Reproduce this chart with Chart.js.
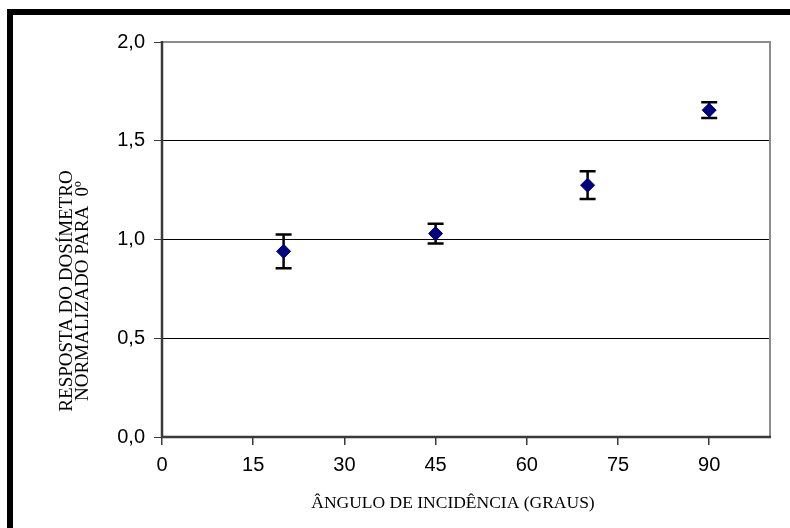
<!DOCTYPE html>
<html><head><meta charset="utf-8">
<script src="https://cdn.jsdelivr.net/npm/chart.js@4"></script>
<style>html,body{margin:0;padding:0;background:#fff}canvas{display:block}</style>
</head><body>
<canvas id="c" width="790" height="528"></canvas>
<script>
const angles = [20, 45, 70, 90];
const responses = [0.94, 1.03, 1.275, 1.655];
const errors = [0.085, 0.05, 0.07, 0.04];
const xTicks = [0, 15, 30, 45, 60, 75, 90];
const yTicks = [0, 0.5, 1, 1.5, 2];
const xTitle = 'ÂNGULO DE INCIDÊNCIA (GRAUS)';
const yTitle = ['RESPOSTA DO DOSÍMETRO', 'NORMALIZADO PARA  0º'];

const points = angles.map((a, i) => ({x: a, y: responses[i]}));

const bgPlugin = {
  id: 'bg',
  beforeDraw(chart) {
    const c = chart.ctx;
    c.save(); c.fillStyle = '#fff'; c.fillRect(0, 0, chart.width, chart.height); c.restore();
  }
};

const framePlugin = {
  id: 'frame',
  beforeDatasetsDraw(chart) {
    const c = chart.ctx, a = chart.chartArea;
    c.save();
    c.strokeStyle = '#8c8c8c'; c.lineWidth = 2;
    c.beginPath();
    c.moveTo(a.left, a.top); c.lineTo(a.right, a.top); c.lineTo(a.right, a.bottom);
    c.stroke();
    c.strokeStyle = '#3a3a3a'; c.lineWidth = 2.5;
    c.beginPath();
    c.moveTo(a.left, a.top - 1); c.lineTo(a.left, a.bottom); c.lineTo(a.right + 1, a.bottom);
    c.stroke();
    // error bars
    const xs = chart.scales.x, ys = chart.scales.y;
    c.strokeStyle = '#000'; c.lineWidth = 2.5;
    angles.forEach((a0, i) => {
      const px = xs.getPixelForValue(a0);
      const pt = ys.getPixelForValue(responses[i] + errors[i]);
      const pb = ys.getPixelForValue(responses[i] - errors[i]);
      c.beginPath();
      c.moveTo(px, pt); c.lineTo(px, pb);
      c.moveTo(px - 8, pt); c.lineTo(px + 8, pt);
      c.moveTo(px - 8, pb); c.lineTo(px + 8, pb);
      c.stroke();
    });
    c.restore();
  },
  afterDraw(chart) {
    const c = chart.ctx;
    c.save();
    c.fillStyle = '#000';
    c.fillRect(7, 9, 6, chart.height - 9);
    c.fillRect(7, 9, chart.width - 7, 6);
    c.textAlign = 'center'; c.textBaseline = 'middle';
    c.font = '17.5px "Liberation Serif", "Times New Roman", serif';
    c.fillText(xTitle, 453, 503);
    c.font = '19px "Liberation Serif", "Times New Roman", serif';
    c.translate(75, 291);
    c.rotate(-Math.PI / 2);
    c.fillText(yTitle[0], 0, -8);
    c.fillText(yTitle[1], 0, 8.5);
    c.restore();
  }
};

new Chart(document.getElementById('c'), {
  type: 'scatter',
  data: {
    datasets: [{
      data: points,
      pointStyle: 'rectRot',
      pointRadius: 7,
      pointHoverRadius: 7,
      backgroundColor: '#000080',
      borderColor: '#000080',
      borderWidth: 1
    }]
  },
  options: {
    responsive: false,
    animation: false,
    events: [],
    layout: {padding: {left: 0, top: 42, right: 20, bottom: 0}},
    plugins: {legend: {display: false}, tooltip: {enabled: false}},
    scales: {
      x: {
        type: 'linear', min: 0, max: 100,
        afterBuildTicks: s => { s.ticks = xTicks.map(v => ({value: v})); },
        afterFit: s => { s.height = 91; },
        border: {display: false},
        grid: {drawOnChartArea: false, drawTicks: true, tickLength: 8, tickColor: '#3a3a3a', lineWidth: 1.5},
        ticks: {padding: 8, color: '#000', font: {family: '"Liberation Sans", Arial, sans-serif', size: 20}, maxRotation: 0}
      },
      y: {
        type: 'linear', min: 0, max: 2,
        afterBuildTicks: s => { s.ticks = yTicks.map(v => ({value: v})); },
        afterFit: s => { s.width = 162; },
        border: {display: false},
        grid: {
          color: ctx => (ctx.tick && (ctx.tick.value === 0 || ctx.tick.value === 2)) ? 'rgba(0,0,0,0)' : '#000',
          tickColor: '#3a3a3a', tickLength: 8, lineWidth: 1
        },
        ticks: {
          padding: 9, color: '#000',
          font: {family: '"Liberation Sans", Arial, sans-serif', size: 20},
          callback: v => v.toFixed(1).replace('.', ',')
        }
      }
    }
  },
  plugins: [bgPlugin, framePlugin]
});
</script>
</body></html>
